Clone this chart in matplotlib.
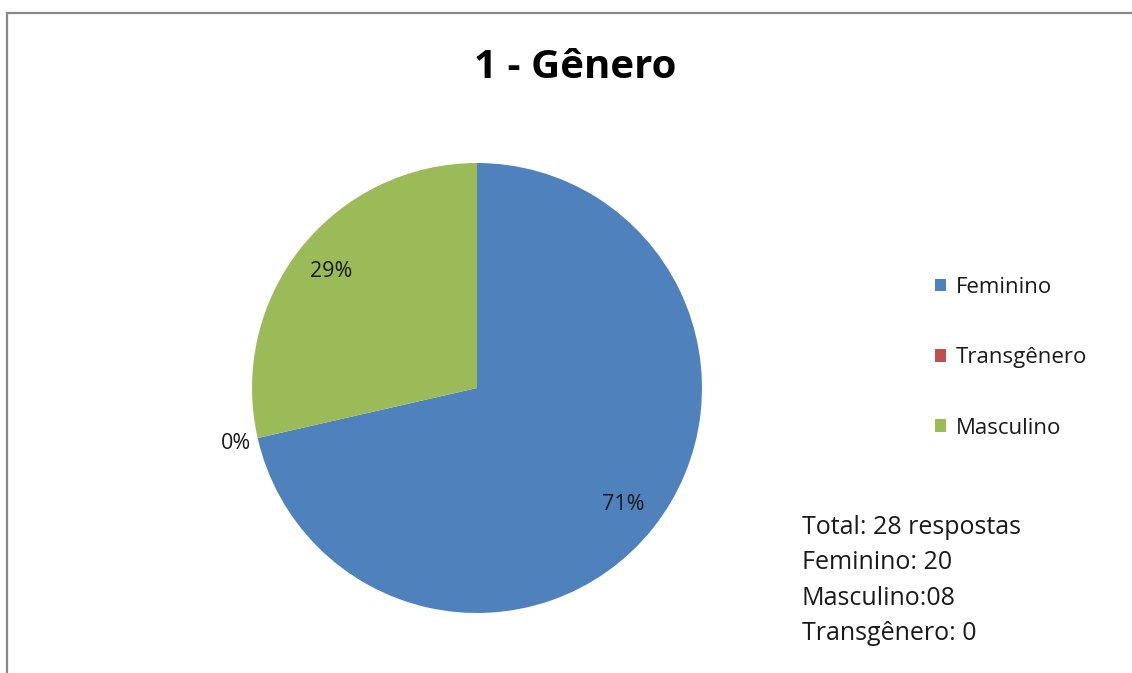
import matplotlib
matplotlib.use("Agg")
import matplotlib.pyplot as plt
import numpy as np
from matplotlib.lines import Line2D

categories = ["Feminino", "Transgênero", "Masculino"]
values = [20, 0, 8]
colors = ["#4F81BD", "#C0504D", "#9BBB59"]
title = "1 - Gênero"

W, H = 1132, 673
fig = plt.figure(figsize=(W / 100, H / 100), dpi=100)
plt.rcParams['font.family'] = ['Open Sans', 'DejaVu Sans']

cx, cy, r = 477, 388, 225
ax = fig.add_axes([(cx - r) / W, 1 - (cy + r) / H, 2 * r / W, 2 * r / H])
wedges, texts, autotexts = ax.pie(
    values, colors=colors, startangle=90, counterclock=False,
    autopct=lambda p: f"{p:.0f}%", pctdistance=0.83,
    wedgeprops=dict(linewidth=0), textprops=dict(fontsize=15.5, color="#1a1a1a"))
for w, t, v in zip(wedges, autotexts, values):
    if v == 0:
        ang = np.deg2rad((w.theta1 + w.theta2) / 2)
        t.set_position((1.1 * np.cos(ang), 1.1 * np.sin(ang)))
ax.set_xlim(-1, 1)
ax.set_ylim(-1, 1)
ax.set_aspect("equal")

fig.text(575 / W, 1 - 67 / H, title, ha="center", va="center",
         fontsize=29, fontweight="bold", color="#000000")

leg = fig.legend(wedges, categories, loc="upper left",
                 bbox_to_anchor=(935 / W, 1 - 277 / H), frameon=False,
                 fontsize=16, labelspacing=2.22, handlelength=0.5,
                 handleheight=0.5, handletextpad=0.45, borderpad=0, borderaxespad=0)
for t in leg.get_texts():
    t.set_color("#1a1a1a")

total = sum(values)
lines = [f"Total: {total} respostas",
         f"{categories[0]}: {values[0]}",
         f"{categories[2]}:{values[2]:02d}",
         f"{categories[1]}: {values[1]}"]
for i, s in enumerate(lines):
    fig.text(802 / W, 1 - (527 + i * 35.6) / H, s, ha="left", va="center",
             fontsize=18, color="#1a1a1a")

border = dict(color="#888888", lw=1.6, solid_capstyle="butt")
fig.add_artist(Line2D([7 / W, 7 / W], [0, 1 - 13 / H], transform=fig.transFigure, **border))
fig.add_artist(Line2D([6 / W, 1], [1 - 13 / H, 1 - 13 / H], transform=fig.transFigure, **border))

fig.savefig("out.png", dpi=100)
